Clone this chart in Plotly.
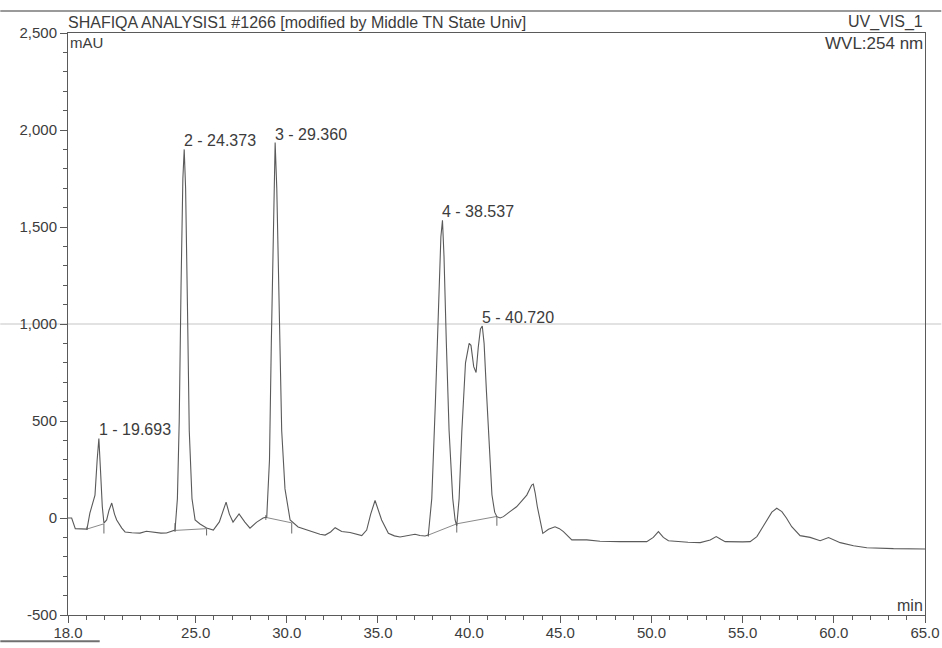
import plotly.graph_objects as go

# Chromatogram trace: retention time (min) and detector signal (mAU)
time_min = [
    18.00, 18.20, 18.40, 18.80, 19.04, 19.20, 19.48, 19.60, 19.693, 19.78,
    19.88, 19.97, 20.12, 20.25, 20.40, 20.55, 20.67, 20.95, 21.13, 21.50,
    21.95, 22.30, 22.60, 22.87, 23.10, 23.40, 23.77, 23.87, 24.00, 24.10,
    24.20, 24.30, 24.373, 24.45, 24.55, 24.65, 24.80, 24.97, 25.24, 25.60,
    25.97, 26.30, 26.67, 26.85, 27.05, 27.38, 27.70, 27.98, 28.35, 28.70,
    28.90, 29.05, 29.15, 29.25, 29.360, 29.45, 29.60, 29.72, 29.90, 30.18,
    30.62, 31.27, 31.82, 32.10, 32.40, 32.65, 33.01, 33.47, 33.80, 34.11,
    34.38, 34.60, 34.84, 35.00, 35.20, 35.57, 35.90, 36.21, 36.60, 37.03,
    37.30, 37.58, 37.76, 37.95, 38.15, 38.30, 38.45, 38.537, 38.62, 38.75,
    38.90, 39.10, 39.23, 39.32, 39.45, 39.60, 39.80, 40.00, 40.10, 40.25,
    40.38, 40.50, 40.62, 40.720, 40.82, 40.95, 41.10, 41.25, 41.40, 41.52,
    41.70, 41.88, 42.20, 42.60, 42.90, 43.16, 43.43, 43.52, 43.62, 43.74,
    44.04, 44.35, 44.71, 44.95, 45.17, 45.63, 46.45, 47.18, 48.28, 49.74,
    50.10, 50.38, 50.65, 50.93, 52.00, 52.67, 53.22, 53.55, 53.80, 54.04,
    55.00, 55.41, 55.78, 56.32, 56.60, 56.87, 57.15, 57.40, 57.69, 58.15,
    58.70, 59.25, 59.71, 60.35, 61.08, 61.81, 63.27, 65.00,
]
signal_mau = [
    0, 0, -55, -58, -57, 25, 118, 300, 410, 250,
    60, -26, -10, 40, 77, 20, -10, -52, -72, -76,
    -78, -68, -72, -74, -78, -77, -68, -62, 100, 500,
    1200, 1750, 1900, 1700, 1100, 450, 100, -10, -31, -52,
    -62, -20, 82, 20, -21, 21, -21, -52, -21, 0,
    5, 300, 900, 1500, 1935, 1700, 1000, 450, 150, -10,
    -46, -66, -84, -88, -72, -50, -70, -75, -82, -91,
    -62, 20, 90, 40, -10, -79, -92, -98, -92, -84,
    -90, -93, -88, 100, 600, 1050, 1450, 1535, 1350, 900,
    450, 100, -10, -40, 100, 450, 800, 900, 890, 780,
    750, 880, 975, 990, 900, 650, 350, 120, 30, 7,
    0, 7, 30, 58, 90, 118, 170, 175, 130, 58,
    -79, -58, -45, -55, -70, -113, -113, -120, -122, -122,
    -100, -70, -100, -117, -125, -127, -113, -96, -110, -122,
    -123, -122, -96, -10, 30, 50, 33, 0, -45, -91,
    -100, -117, -101, -127, -143, -153, -158, -160,
]

# Integrated peaks: number, retention time, apex height
peak_no = [1, 2, 3, 4, 5]
peak_rt = [19.693, 24.373, 29.360, 38.537, 40.720]
peak_height = [410, 1900, 1935, 1535, 990]

# Integration baselines (segments separated by None)
base_t = [19.04, 19.97, None, 23.87, 25.60, None, 28.85, 30.27, None, 37.76, 39.32, 41.52]
base_y = [-57, -30, None, -64, -55, None, 3, -25, None, -88, -30, 8]

# Peak delimiter marks: time, upper and lower end
delim_t = [19.04, 19.97, 23.87, 25.60, 28.85, 30.27, 37.76, 39.32, 41.52]
delim_top = [-45, -30, -26, -55, 15, -25, -80, -30, 8]
delim_bot = [-62, -80, -72, -90, -10, -80, -96, -75, -40]

# Axis ticks
x_tick_vals = [18, 25, 30, 35, 40, 45, 50, 55, 60, 65]
x_tick_text = ["18.0", "25.0", "30.0", "35.0", "40.0", "45.0", "50.0", "55.0", "60.0", "65.0"]
y_tick_vals = [-500, 0, 500, 1000, 1500, 2000, 2500]
y_tick_text = ["-500", "0", "500", "1,000", "1,500", "2,000", "2,500"]

LINE = "#5a5a5a"
TEXT = "#3c3c3c"
FONT = "Liberation Sans, Arial, sans-serif"

d_x, d_y = [], []
for t, top, bot in zip(delim_t, delim_top, delim_bot):
    d_x += [t, t, None]
    d_y += [top, bot, None]

fig = go.Figure()
fig.add_trace(go.Scatter(x=base_t, y=base_y, mode="lines",
                         line=dict(color="#8a8a8a", width=1), hoverinfo="skip"))
fig.add_trace(go.Scatter(x=d_x, y=d_y, mode="lines",
                         line=dict(color="#6a6a6a", width=1), hoverinfo="skip"))
fig.add_trace(go.Scatter(x=time_min, y=signal_mau, mode="lines",
                         line=dict(color=LINE, width=1.1)))

for n, rt, h in zip(peak_no, peak_rt, peak_height):
    fig.add_annotation(x=rt, y=h, text=f"{n} - {rt:.3f}", showarrow=False,
                       xanchor="left", yanchor="bottom", xshift=-2, yshift=-2,
                       font=dict(family=FONT, size=16, color=TEXT))

# Header and unit labels
fig.add_annotation(xref="paper", yref="paper", x=0, y=1, yanchor="bottom", xanchor="left",
                   text="SHAFIQA ANALYSIS1 #1266 [modified by Middle TN State Univ]",
                   showarrow=False, xshift=-2, yshift=0,
                   font=dict(family=FONT, size=16, color=TEXT))
fig.add_annotation(xref="paper", yref="paper", x=1, y=1, yanchor="bottom", xanchor="right",
                   text="UV_VIS_1", showarrow=False, yshift=0,
                   font=dict(family=FONT, size=16, color=TEXT))
fig.add_annotation(xref="paper", yref="paper", x=0, y=1, yanchor="top", xanchor="left",
                   text="mAU", showarrow=False, yshift=1,
                   font=dict(family=FONT, size=15, color=TEXT))
fig.add_annotation(xref="paper", yref="paper", x=1, y=1, yanchor="top", xanchor="right",
                   text="WVL:254 nm", showarrow=False, yshift=1,
                   font=dict(family=FONT, size=17, color=TEXT))
fig.add_annotation(xref="paper", yref="paper", x=1, y=0, yanchor="bottom", xanchor="right",
                   text="min", showarrow=False, yshift=-1,
                   font=dict(family=FONT, size=16, color=TEXT))

# Page rules (kept inside the 942 px page width)
fig.add_shape(type="line", xref="paper", yref="paper", x0=-0.079, x1=1.019, y0=1.038, y1=1.038,
              line=dict(color="#9a9a9a", width=2))
fig.add_shape(type="line", xref="paper", yref="y", x0=-0.079, x1=1.019, y0=1000, y1=1000,
              line=dict(color="#d8d8d8", width=1.5), layer="below")
fig.add_shape(type="line", xref="paper", yref="paper", x0=-0.079, x1=0.037, y0=-0.045, y1=-0.045,
              line=dict(color="#707070", width=2))

fig.update_layout(
    width=942, height=648, autosize=False,
    margin=dict(l=68, r=17, t=33, b=33, autoexpand=False),
    paper_bgcolor="white", plot_bgcolor="white",
    showlegend=False,
    font=dict(family=FONT, size=15, color=TEXT),
    xaxis=dict(range=[18, 65], tickmode="array", tickvals=x_tick_vals, ticktext=x_tick_text,
               automargin=False, ticklabelstandoff=-3,
               showgrid=False, zeroline=False, showline=True, linecolor=LINE, linewidth=1,
               mirror=True, ticks="outside", ticklen=7, tickcolor=LINE, tickwidth=1,
               minor=dict(tick0=18, dtick=1, ticks="outside", ticklen=4, tickcolor=LINE),
               tickfont=dict(family=FONT, size=15, color=TEXT)),
    yaxis=dict(range=[-500, 2500], tickmode="array", tickvals=y_tick_vals, ticktext=y_tick_text,
               automargin=False,
               showgrid=False, zeroline=False, showline=True, linecolor=LINE, linewidth=1,
               mirror=True, ticks="outside", ticklen=7, tickcolor=LINE, tickwidth=1,
               minor=dict(tick0=0, dtick=100, ticks="outside", ticklen=4, tickcolor=LINE),
               tickfont=dict(family=FONT, size=15, color=TEXT)),
)

fig.write_html("out.html", config={"displayModeBar": False})
